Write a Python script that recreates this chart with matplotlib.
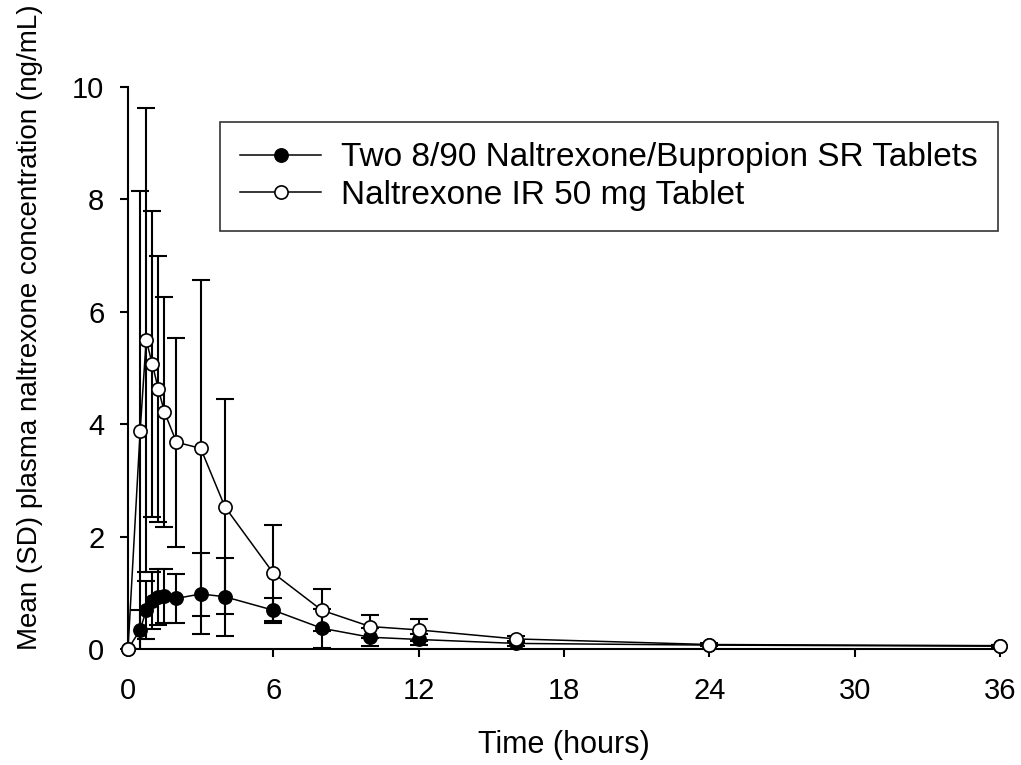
import matplotlib
matplotlib.use("Agg")
import matplotlib.pyplot as plt
import numpy as np

plt.rcParams['font.family'] = ['Liberation Sans', 'DejaVu Sans']

time_h = [0, 0.5, 0.75, 1, 1.25, 1.5, 2, 3, 4, 6, 8, 10, 12, 16, 24, 36]
combo_mean = [0, 0.34, 0.69, 0.86, 0.92, 0.95, 0.90, 0.98, 0.93, 0.69, 0.37, 0.21, 0.17, 0.10, 0.07, 0.05]
combo_sd = [0, 0.35, 0.52, 0.51, 0.50, 0.48, 0.44, 0.72, 0.69, 0.22, 0.35, 0.16, 0.10, 0.05, 0.02, 0.02]
ir_mean = [0, 3.88, 5.50, 5.07, 4.63, 4.22, 3.68, 3.57, 2.53, 1.35, 0.69, 0.40, 0.34, 0.18, 0.08, 0.06]
ir_sd = [0, 4.27, 4.13, 2.72, 2.37, 2.05, 1.86, 2.99, 1.91, 0.85, 0.37, 0.20, 0.19, 0.06, 0.02, 0.02]
labels = ["Two 8/90 Naltrexone/Bupropion SR Tablets", "Naltrexone IR 50 mg Tablet"]
x_ticks = [0, 6, 12, 18, 24, 30, 36]
y_ticks = [0, 2, 4, 6, 8, 10]

fig = plt.figure(figsize=(10.21, 7.65), dpi=100)
ax = fig.add_axes([0.1254, 0.1516, 0.854, 0.7347])

eb_kw = dict(fmt='none', ecolor='black', elinewidth=1.5, capsize=6.5, capthick=1.5, zorder=2)
ax.errorbar(time_h, combo_mean, yerr=combo_sd, **eb_kw)
ax.errorbar(time_h, ir_mean, yerr=ir_sd, **eb_kw)

ax.plot(time_h, combo_mean, '-o', color='black', lw=1.1, ms=9.5, mfc='black', mec='black',
        mew=1.2, label=labels[0], zorder=4, clip_on=False)
ax.plot(time_h, ir_mean, '-o', color='black', lw=1.1, ms=9.5, mfc='white', mec='black',
        mew=1.2, label=labels[1], zorder=5, clip_on=False)

ax.set_xlim(0, 36)
ax.set_ylim(0, 10)
ax.set_xticks(x_ticks)
ax.set_yticks(y_ticks)
for s in ['top', 'right']:
    ax.spines[s].set_visible(False)
for s in ['left', 'bottom']:
    ax.spines[s].set_linewidth(1.5)
ax.tick_params(direction='out', length=6, width=1.5, labelsize=21)
ax.tick_params(axis='x', pad=14)
ax.tick_params(axis='y', pad=11)

ax.set_xlabel("Time (hours)", fontsize=22, labelpad=18)
ax.set_ylabel("Mean (SD) plasma naltrexone concentration (ng/mL)", fontsize=20)
ax.yaxis.set_label_coords(-0.097, 0.573)

leg = ax.legend(loc='upper right', bbox_to_anchor=(0.998, 0.937), fontsize=24, frameon=True,
                fancybox=False, edgecolor='black', handlelength=2.45, borderpad=0.6,
                labelspacing=0.2, handletextpad=0.6, borderaxespad=0.0)
leg.get_frame().set_linewidth(1.2)

fig.savefig("out.png", dpi=100)
